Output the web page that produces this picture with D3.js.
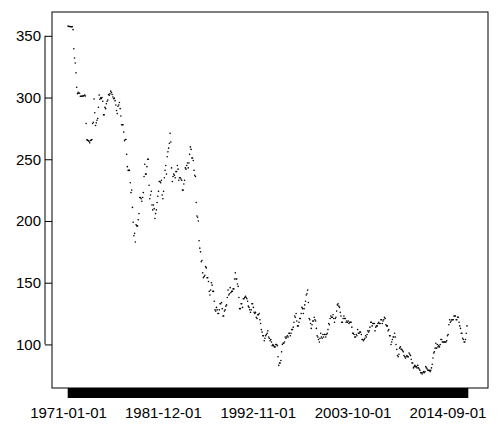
<!DOCTYPE html>
<html><head><meta charset="utf-8">
<script src="https://cdn.jsdelivr.net/npm/d3@7"></script>
<style>body{margin:0;background:#fff}svg{font-family:"Liberation Sans",Arial,sans-serif}</style>
</head><body><svg id="c" width="500" height="441"></svg>
<script>
// monthly values, 1971-01 .. 2016-12, one row per year
var startYear = 1971;
var values = [
358.0,357.5,357.5,357.5,357.4,357.4,357.4,355.0,339.5,332.0,328.0,320.0,
308.3,303.1,304.2,303.5,303.5,301.1,301.1,301.1,301.2,301.3,301.5,302.1,
301.2,279.0,265.8,265.5,264.9,264.6,263.3,265.2,265.5,266.0,279.0,280.0,
298.8,287.7,277.4,279.5,281.6,283.0,292.1,302.0,298.6,299.7,299.3,300.0,
297.0,286.0,286.0,292.0,291.0,295.0,297.0,298.0,302.5,301.8,303.0,305.2,
304.0,302.5,300.4,299.0,299.5,297.5,294.0,289.5,287.0,293.0,294.0,296.0,
291.0,285.0,278.0,278.0,278.0,272.0,265.0,266.0,266.0,254.0,244.0,241.0,
241.0,241.0,231.0,223.0,225.0,211.0,199.0,188.0,190.0,183.0,197.0,196.0,
196.0,201.0,206.0,219.0,219.0,218.0,216.0,219.0,223.0,236.0,246.0,238.0,
238.0,244.0,250.0,250.0,229.0,218.0,221.0,224.0,213.0,209.0,213.0,210.0,
202.0,206.0,209.0,215.0,220.0,224.0,232.0,232.0,231.0,233.0,221.0,218.0,
224.0,235.0,241.0,245.0,238.0,252.0,256.0,259.0,263.0,271.0,264.0,243.0,
232.0,236.0,238.0,237.0,235.0,240.0,240.0,245.0,242.0,233.0,235.0,235.0,
234.0,233.0,225.0,225.0,230.0,233.0,243.0,242.0,245.0,247.0,243.0,247.0,
254.0,260.0,258.0,251.0,251.0,249.0,241.0,237.0,236.0,215.0,204.0,203.0,
200.0,184.0,178.0,175.0,167.0,168.0,158.0,154.0,155.0,156.0,163.0,162.0,
154.0,154.0,151.0,143.0,140.0,144.0,150.0,148.0,143.0,143.0,135.0,128.0,
127.0,130.0,128.0,125.0,125.0,128.0,133.0,133.0,134.0,129.0,123.0,123.0,
127.0,128.0,131.0,132.0,138.0,144.0,140.0,141.0,146.0,142.0,143.0,143.0,
145.0,145.0,153.0,158.0,153.0,153.0,149.0,147.0,138.0,129.0,129.0,133.0,
133.0,130.0,137.0,137.0,138.0,139.0,138.0,137.0,135.0,131.0,130.0,128.0,
126.0,128.0,133.0,133.0,130.0,126.0,125.0,126.0,122.0,121.0,124.0,124.0,
125.0,120.0,117.0,112.0,110.0,107.0,107.0,103.0,105.0,107.0,108.0,109.0,
111.0,106.0,105.0,103.0,104.0,102.0,99.0,100.0,99.0,98.0,98.0,100.0,
100.0,99.0,90.0,83.0,85.0,85.0,87.0,94.0,100.0,101.0,101.0,102.0,
106.0,105.0,106.0,107.0,106.0,109.0,109.0,107.0,109.0,112.0,112.0,114.0,
118.0,123.0,122.0,125.0,119.0,115.0,115.0,118.0,121.0,121.0,125.0,130.0,
129.0,125.0,129.0,132.0,135.0,140.0,141.0,144.0,134.0,121.0,120.0,117.0,
113.0,116.0,119.0,119.0,122.0,120.0,119.0,113.0,107.0,106.0,104.0,102.0,
105.0,109.0,106.0,105.0,108.0,106.0,108.0,108.0,106.0,108.0,109.0,112.0,
117.0,116.0,121.0,123.0,122.0,122.0,124.0,121.0,118.0,121.0,122.0,127.0,
132.0,133.0,131.0,130.0,126.0,123.0,118.0,118.0,121.0,123.0,121.0,121.0,
118.0,119.0,118.0,119.0,117.0,118.0,118.0,118.0,114.0,109.0,109.0,108.0,
106.0,106.0,108.0,107.0,112.0,109.0,109.0,110.0,110.0,108.0,104.0,104.0,
103.0,104.0,105.0,107.0,106.0,108.0,111.0,110.0,111.0,114.0,118.0,118.0,
115.0,117.0,117.0,117.0,111.0,114.0,115.0,115.0,117.0,118.0,117.0,117.0,
120.0,120.0,117.0,119.0,120.0,122.0,121.0,116.0,115.0,115.0,111.0,112.0,
107.0,107.0,100.0,102.0,104.0,106.0,106.0,109.0,106.0,100.0,96.0,91.0,
90.0,92.0,97.0,98.0,96.0,96.0,95.0,94.0,91.0,90.0,89.0,90.0,
91.0,90.0,90.0,93.0,92.0,91.0,88.0,85.0,85.0,81.0,82.0,83.0,
82.0,82.0,81.0,83.0,81.0,80.0,79.0,77.0,77.0,76.0,77.0,78.0,
77.0,78.0,82.0,81.0,80.0,79.0,79.0,79.0,78.0,79.0,81.0,84.0,
89.0,93.0,94.0,97.0,101.0,97.0,100.0,98.0,99.0,98.0,100.0,104.0,
104.0,102.0,102.0,102.0,102.0,102.0,102.0,103.0,107.0,108.0,116.0,120.0,
118.0,119.0,120.0,120.0,120.0,123.0,123.0,123.0,120.0,120.0,122.0,122.0,
118.0,115.0,113.0,109.0,109.0,105.0,104.0,102.0,102.0,104.0,109.0,115.0
];
var dates = values.map(function(v, i) {
  var y = startYear + Math.floor(i / 12), m = i % 12 + 1;
  return y + "-" + (m < 10 ? "0" + m : m) + "-01";
});
var yTicks = [100, 150, 200, 250, 300, 350];

var svg = d3.select("#c");
var x = d3.scalePoint().domain(dates).range([68, 467]);
var y = d3.scaleLinear().domain([64.7, 369.3]).range([388, 12]);

svg.append("rect").attr("x", 52).attr("y", 12).attr("width", 436).attr("height", 376)
  .attr("fill", "none").attr("stroke", "#000");

var xa = svg.append("g").attr("transform", "translate(0,388)")
  .call(d3.axisBottom(x).tickSize(10).tickFormat(function(d, i) { return i % 131 == 0 ? d : ""; }));
xa.select(".domain").remove();
xa.selectAll(".tick line").attr("stroke-width", 1.6);
xa.selectAll("text").attr("font-size", 15).attr("fill", "#000").attr("dy", "1.1em");

var ya = svg.append("g").attr("transform", "translate(52,0)")
  .call(d3.axisLeft(y).tickValues(yTicks).tickSize(7).tickPadding(4));
ya.select(".domain").remove();
ya.append("line").attr("x1", -7).attr("x2", -7).attr("y1", y(100)).attr("y2", y(350)).attr("stroke", "#000");
ya.selectAll("text").attr("font-size", 15).attr("fill", "#000");

svg.append("g").selectAll("circle").data(values).enter().append("circle")
  .attr("cx", function(d, i) { return x(dates[i]); })
  .attr("cy", function(d) { return y(d); })
  .attr("r", 0.8).attr("fill", "#000");
</script></body></html>
